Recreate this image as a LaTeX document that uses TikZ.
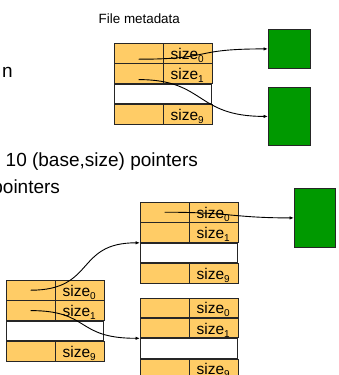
\documentclass[tikz,border=0pt]{standalone}
\usepackage{fontspec}
\setmainfont{Liberation Sans}
\usetikzlibrary{arrows.meta}

\definecolor{cellorange}{HTML}{FFCC66}
\definecolor{blockgreen}{HTML}{009900}

% "size" label with a lowered index digit
\newcommand\sizelbl[1]{size\raisebox{-3pt}{\fontsize{10}{10}\selectfont #1}}

% one pointer table: rows 0 and 1, an empty gap row, row 9
\newcommand\ptrtable[3]{%
  \node[lcell] (#1-a0) at (#2,#3) {};
  \node[rcell] (#1-b0) at (#1-a0.north east) {\sizelbl{0}};
  \node[lcell] (#1-a1) at (#1-a0.south west) {};
  \node[rcell] (#1-b1) at (#1-a1.north east) {\sizelbl{1}};
  \node[wcell] (#1-w)  at (#1-a1.south west) {};
  \node[lcell] (#1-a9) at (#1-w.south west) {};
  \node[rcell] (#1-b9) at (#1-a9.north east) {\sizelbl{9}};
}

\tikzset{
  cellbase/.style={draw=black!85, line width=0.9pt, inner sep=0pt,
    anchor=north west, minimum height=19.5pt},
  lcell/.style={cellbase, fill=cellorange, minimum width=48.5pt},
  rcell/.style={cellbase, fill=cellorange, text width=35pt, inner xsep=6.75pt,
    align=left, text height=14pt, text depth=1.9pt,
    font=\fontsize{15.5}{16}\selectfont},
  wcell/.style={cellbase, fill=white, minimum width=97pt},
  blockbox/.style={draw=black!85, line width=0.8pt, fill=blockgreen,
    inner sep=0pt, anchor=north west},
  bigtext/.style={anchor=base west, inner sep=0pt, font=\fontsize{19}{22}\selectfont},
  ptr/.style={line width=0.9pt, -{Latex[length=4.5pt,width=3.5pt]}},
}

\begin{document}
\begin{tikzpicture}[x=1pt, y=-1pt]
  \useasboundingbox (0,0) rectangle (338,375);
  \clip (0,0) rectangle (338,375);

  % slide text
  \node[anchor=base west, inner sep=0pt, font=\fontsize{13.4}{15}\selectfont]
    (meta) at (98.5,23.7) {File metadata};
  \node[bigtext] (frag) at (2,77) {n};
  \node[bigtext] (line1) at (5.5,166) {10 (base,size) pointers};
  \node[bigtext] (line2) at (-7.8,193) {pointers};

  % data blocks
  \node[blockbox, minimum width=42pt, minimum height=39pt] (g1) at (268,29) {};
  \node[blockbox, minimum width=42pt, minimum height=58pt] (g2) at (268,87) {};
  \node[blockbox, minimum width=41pt, minimum height=59pt] (g3) at (294,188) {};

  % pointer tables
  \ptrtable{t1}{114}{43}
  \ptrtable{t2}{140}{202}
  \ptrtable{t3}{6}{280}
  \ptrtable{t4}{140}{297.5}

  % pointers
  \draw[ptr] ([yshift=-6pt]t1-a0.center) .. controls +(76,0) and +(-78,0) .. (g1.west);
  \draw[ptr] ([yshift=-6pt]t1-a1.center) .. controls +(67,0) and +(-73,0) .. (g2.west);
  \draw[ptr] (t2-a0.center) .. controls +(65,0) and +(-60,0) .. (g3.west);
  \draw[ptr] (t3-a0.center) .. controls +(65,0) and +(-65,0) .. (t2-w.north west);
  \draw[ptr] (t3-a1.center) .. controls +(60,0) and +(-65,0) .. (t4-w.north west);
\end{tikzpicture}
\end{document}
